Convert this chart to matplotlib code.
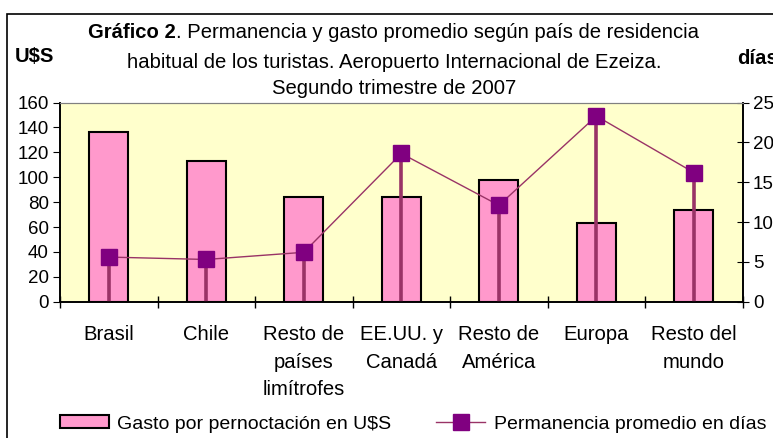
import matplotlib
matplotlib.use("Agg")
import matplotlib.pyplot as plt
import numpy as np
from matplotlib.patches import Patch, Rectangle
from matplotlib.lines import Line2D

plt.rcParams["font.family"] = ["Liberation Sans", "DejaVu Sans"]

categories = ["Brasil", "Chile", "Resto de\npaíses\nlimítrofes", "EE.UU. y\nCanadá",
              "Resto de\nAmérica", "Europa", "Resto del\nmundo"]
gasto = [136, 113, 84, 84, 98, 63, 74]
permanencia = [5.6, 5.3, 6.2, 18.6, 12.1, 23.3, 16.2]

left_ticks = [0, 20, 40, 60, 80, 100, 120, 140, 160]
right_ticks = [0, 5, 10, 15, 20, 25]

FS = 14.6
W, H = 773, 438
fig = plt.figure(figsize=(W / 100, H / 100), dpi=100)
ax = fig.add_axes([60 / W, 1 - 301.7 / H, (742.7 - 60) / W, (301.7 - 102.5) / H])
ax.set_facecolor("#FFFFCC")

x = np.arange(len(categories))
ax.bar(x, gasto, width=0.4, color="#FF99CC", edgecolor="black", linewidth=1.5, zorder=2)
ax.set_xlim(-0.5, len(categories) - 0.5)
ax.set_ylim(0, 160)
ax.set_yticks(left_ticks)
ax.tick_params(axis="y", direction="out", length=5, labelsize=13.5, pad=3)

ax.set_xticks(x)
ax.set_xticklabels(categories, fontsize=FS, linespacing=1.55)
ax.tick_params(axis="x", which="major", length=0, pad=17)
ax.set_xticks(np.arange(len(categories) + 1) - 0.5, minor=True)
ax.tick_params(axis="x", which="minor", direction="inout", length=9, width=1)

ax2 = ax.twinx()
ax2.set_ylim(0, 25)
ax2.set_yticks(right_ticks)
ax2.tick_params(axis="y", direction="inout", length=9, labelsize=13.5, pad=3)
ax2.vlines(x, 0, permanencia, color="#993366", linewidth=2.6, zorder=2)
ax2.plot(x, permanencia, color="#993366", linewidth=1, marker="s", markersize=12,
         markerfacecolor="#800080", markeredgecolor="#800080", zorder=3)

for a in (ax, ax2):
    a.spines["top"].set_color("#808080")
    a.spines["left"].set_linewidth(1.2)
    a.spines["right"].set_linewidth(1.2)
    a.spines["bottom"].set_linewidth(1.2)

# outer frame of the chart area
fig.patches.append(Rectangle((7.5 / W, -0.1), 1.2, 1 - 13.5 / H + 0.1, transform=fig.transFigure,
                             fill=False, edgecolor="black", linewidth=1.2))

# title, first part in bold
t1 = fig.text(88 / W, 1 - 32 / H, "Gráfico 2", fontsize=FS, fontweight="bold", va="center", ha="left")
fig.canvas.draw()
bb = t1.get_window_extent()
fig.text(bb.x1 / W, 1 - 32 / H, ". Permanencia y gasto promedio según país de residencia",
         fontsize=FS, va="center", ha="left")
fig.text(394 / W, 1 - 62 / H, "habitual de los turistas. Aeropuerto Internacional de Ezeiza.",
         fontsize=FS, va="center", ha="center")
fig.text(394 / W, 1 - 89 / H, "Segundo trimestre de 2007", fontsize=FS, va="center", ha="center")

fig.text(15 / W, 1 - 56 / H, "U$S", fontsize=FS, fontweight="bold", va="center", ha="left")
fig.text(737 / W, 1 - 58 / H, "días", fontsize=FS, fontweight="bold", va="center", ha="left")

handles = [
    Patch(facecolor="#FF99CC", edgecolor="black", linewidth=1.5),
    Line2D([], [], color="#993366", linewidth=1, marker="s", markersize=12,
           markerfacecolor="#800080", markeredgecolor="#800080"),
]
fig.legend(handles, ["Gasto por pernoctación en U$S", "Permanencia promedio en días"],
           loc="center left", bbox_to_anchor=(60 / W, 1 - 424 / H), ncol=2, frameon=False,
           fontsize=14, handlelength=2.5, handleheight=0.6, handletextpad=0.45,
           columnspacing=2.3, borderpad=0, borderaxespad=0)

fig.savefig("out.png", dpi=100)
